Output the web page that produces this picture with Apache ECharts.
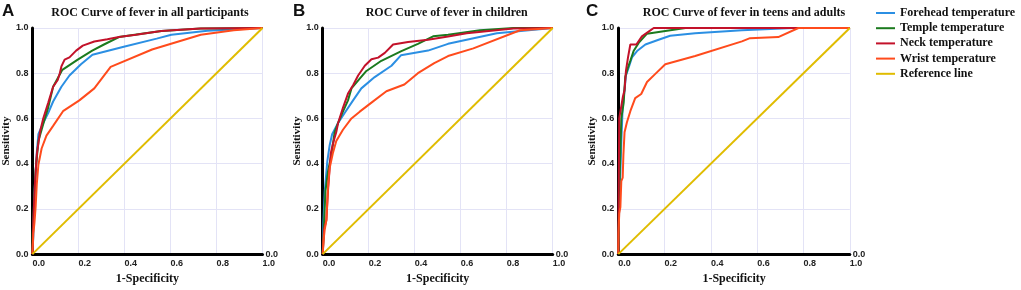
<!DOCTYPE html>
<html><head><meta charset="utf-8">
<script src="https://cdn.jsdelivr.net/npm/echarts@6/dist/echarts.min.js"></script>
<style>html,body{margin:0;padding:0;background:#fff}#c{width:1021px;height:290px}</style>
</head><body><div id="c"></div>
<script>
const panelLetters = ['A', 'B', 'C'];
const panelTitles = ['ROC Curve of fever in all participants', 'ROC Curve of fever in children', 'ROC Curve of fever in teens and adults'];
const seriesNames = ['Forehead temperature', 'Temple temperature', 'Neck temperature', 'Wrist temperature', 'Reference line'];
const xTickLabels = ['0.0', '0.2', '0.4', '0.6', '0.8', '1.0'];
const yTickLabels = ['0.0', '0.2', '0.4', '0.6', '0.8', '1.0'];

const A_forehead = [[0,0],[0.004,0.08],[0.009,0.27],[0.019,0.45],[0.026,0.53],[0.047,0.58],[0.069,0.625],[0.09,0.675],[0.126,0.74],[0.161,0.79],[0.211,0.84],[0.261,0.882],[0.397,0.917],[0.54,0.953],[0.604,0.97],[0.761,0.988],[1,1]];
const A_temple = [[0,0],[0.001,0.09],[0.006,0.2],[0.014,0.37],[0.026,0.5],[0.04,0.55],[0.054,0.6],[0.069,0.65],[0.09,0.74],[0.13,0.815],[0.197,0.86],[0.26,0.9],[0.311,0.927],[0.376,0.96],[0.483,0.976],[0.561,0.987],[0.732,0.998],[1,1]];
const A_neck = [[0,0],[0.004,0.15],[0.011,0.31],[0.019,0.44],[0.033,0.54],[0.047,0.6],[0.069,0.67],[0.09,0.74],[0.11,0.77],[0.119,0.8],[0.126,0.83],[0.14,0.86],[0.161,0.87],[0.19,0.9],[0.219,0.922],[0.269,0.94],[0.326,0.95],[0.376,0.96],[0.45,0.97],[0.56,0.987],[0.73,0.998],[1,1]];
const A_wrist = [[0,0],[0.004,0.09],[0.009,0.14],[0.014,0.21],[0.019,0.31],[0.026,0.395],[0.04,0.467],[0.061,0.524],[0.09,0.567],[0.133,0.632],[0.204,0.68],[0.269,0.733],[0.34,0.828],[0.52,0.905],[0.732,0.97],[0.875,0.99],[1,1]];

const B_forehead = [[0,0],[0.003,0.14],[0.009,0.28],[0.02,0.41],[0.03,0.48],[0.041,0.53],[0.067,0.58],[0.096,0.625],[0.132,0.68],[0.168,0.733],[0.226,0.783],[0.299,0.833],[0.34,0.879],[0.458,0.9],[0.545,0.93],[0.757,0.977],[1,1]];
const B_temple = [[0,0],[0.004,0.09],[0.012,0.28],[0.023,0.366],[0.038,0.44],[0.052,0.54],[0.067,0.58],[0.088,0.63],[0.11,0.68],[0.125,0.733],[0.161,0.776],[0.19,0.81],[0.255,0.855],[0.342,0.898],[0.414,0.93],[0.48,0.963],[0.545,0.97],[0.684,0.99],[0.83,1],[1,1]];
const B_neck = [[0,0],[0.006,0.11],[0.016,0.15],[0.023,0.28],[0.035,0.445],[0.045,0.49],[0.059,0.54],[0.067,0.58],[0.088,0.647],[0.11,0.71],[0.132,0.747],[0.154,0.79],[0.183,0.833],[0.212,0.862],[0.241,0.869],[0.27,0.89],[0.306,0.927],[0.371,0.938],[0.458,0.948],[0.545,0.962],[0.626,0.977],[0.829,0.998],[1,1]];
const B_wrist = [[0,0],[0.004,0.065],[0.009,0.11],[0.016,0.15],[0.023,0.295],[0.03,0.38],[0.045,0.45],[0.059,0.5],[0.088,0.55],[0.125,0.6],[0.161,0.63],[0.212,0.67],[0.277,0.72],[0.355,0.75],[0.414,0.8],[0.485,0.845],[0.545,0.876],[0.655,0.91],[0.858,0.99],[1,1]];

const C_forehead = [[0,0],[0.004,0.21],[0.009,0.366],[0.013,0.496],[0.019,0.654],[0.027,0.726],[0.033,0.79],[0.045,0.826],[0.059,0.87],[0.081,0.898],[0.117,0.927],[0.174,0.948],[0.224,0.966],[0.332,0.977],[0.534,0.99],[0.756,1],[1,1]];
const C_temple = [[0,0],[0.003,0.21],[0.007,0.38],[0.013,0.6],[0.023,0.668],[0.03,0.783],[0.042,0.826],[0.052,0.855],[0.066,0.898],[0.088,0.934],[0.124,0.975],[0.203,0.987],[0.29,1],[1,1]];
const C_neck = [[0,0],[0.001,0.165],[0.004,0.6],[0.01,0.6],[0.013,0.654],[0.02,0.697],[0.027,0.726],[0.033,0.81],[0.042,0.87],[0.052,0.927],[0.078,0.927],[0.102,0.963],[0.131,0.984],[0.153,1],[1,1]];
const C_wrist = [[0,0],[0.001,0.093],[0.004,0.18],[0.009,0.208],[0.013,0.323],[0.019,0.338],[0.022,0.438],[0.027,0.539],[0.037,0.582],[0.052,0.632],[0.073,0.69],[0.099,0.708],[0.124,0.761],[0.16,0.797],[0.203,0.84],[0.332,0.876],[0.534,0.941],[0.569,0.955],[0.691,0.96],[0.778,1],[1,1]];

const referenceLine = [[0,0],[1,1]];

const panelData = [
  [A_forehead, A_temple, A_neck, A_wrist, referenceLine],
  [B_forehead, B_temple, B_neck, B_wrist, referenceLine],
  [C_forehead, C_temple, C_neck, C_wrist, referenceLine]
];

const colors = ['#2b8fe3', '#1b7a1e', '#c3122a', '#ff4b1c', '#e0bc00'];
const gridBoxes = [
  {left: 29, top: 28, width: 233.5, height: 232},
  {left: 322.7, top: 28, width: 230, height: 232},
  {left: 618.3, top: 28, width: 231.5, height: 232}
];
const titleCenters = [150, 446.7, 744];
const letterLefts = [2, 293, 586];

const serif = 'Liberation Serif';
const sans = 'Liberation Sans';
const gridColor = '#e3e3f6';

const grids = gridBoxes.map(g => Object.assign({containLabel: false}, g));
const xAxes = gridBoxes.map((g, i) => ({
  gridIndex: i, type: 'value', min: 0, max: 1, interval: 0.2,
  axisLine: {show: true, onZero: false, lineStyle: {color: '#000', width: 3}},
  axisTick: {show: false},
  splitLine: {show: true, lineStyle: {color: gridColor, width: 1}},
  axisLabel: {formatter: (v) => xTickLabels[Math.round(v * 5)], fontFamily: sans, fontWeight: 'bold', fontSize: 9, color: '#222', align: 'left', margin: 5},
  name: '1-Specificity', nameLocation: 'middle', nameGap: 16,
  nameTextStyle: {fontFamily: serif, fontWeight: 'bold', fontSize: 12, color: '#111'}
}));
const yAxes = gridBoxes.map((g, i) => ({
  gridIndex: i, type: 'value', min: 0, max: 1, interval: 0.2,
  axisLine: {show: true, onZero: false, lineStyle: {color: '#000', width: 3}},
  axisTick: {show: false},
  splitLine: {show: true, lineStyle: {color: gridColor, width: 1}},
  axisLabel: {formatter: (v) => yTickLabels[Math.round(v * 5)], fontFamily: sans, fontWeight: 'bold', fontSize: 9, color: '#222', margin: 4, padding: [0, 0, 4, 0]},
  name: 'Sensitivity', nameLocation: 'middle', nameGap: 17,
  nameTextStyle: {fontFamily: serif, fontWeight: 'bold', fontSize: 11, color: '#111'}
}));
gridBoxes.forEach((g, i) => {
  yAxes.push({
    gridIndex: i, type: 'value', position: 'right', min: 0, max: 1, interval: 1,
    axisLine: {show: false}, axisTick: {show: false}, splitLine: {show: false},
    axisLabel: {formatter: (v) => v === 0 ? yTickLabels[0] : '', fontFamily: sans, fontWeight: 'bold', fontSize: 9, color: '#222', margin: 3, padding: [0, 0, 8, 0]}
  });
});

const drawOrder = [4, 3, 0, 2, 1];
const series = [];
panelData.forEach((arr, p) => {
  drawOrder.forEach(k => {
    series.push({
      type: 'line', name: seriesNames[k], xAxisIndex: p, yAxisIndex: p,
      data: arr[k], symbol: 'none', showSymbol: false, smooth: false,
      lineStyle: {color: colors[k], width: 2},
      itemStyle: {color: colors[k]}, animation: false, silent: true, z: 2 + k
    });
  });
});

const titles = [];
panelLetters.forEach((t, i) => titles.push({text: t, left: letterLefts[i], top: 3, padding: 0,
  textStyle: {fontFamily: sans, fontWeight: 'bold', fontSize: 17, color: '#111'}}));
panelTitles.forEach((t, i) => titles.push({text: t, left: titleCenters[i], textAlign: 'center', top: 7, padding: 0,
  textStyle: {fontFamily: serif, fontWeight: 'bold', fontSize: 12, color: '#111'}}));

const chart = echarts.init(document.getElementById('c'), null, {renderer: 'canvas'});
chart.setOption({
  animation: false,
  backgroundColor: '#fff',
  title: titles,
  grid: grids,
  xAxis: xAxes,
  yAxis: yAxes,
  legend: {
    data: seriesNames, orient: 'vertical', left: 876, top: 7, padding: 0,
    itemWidth: 19, itemHeight: 2, itemGap: 3.2, icon: 'rect', selectedMode: false,
    textStyle: {fontFamily: serif, fontWeight: 'bold', fontSize: 12, color: '#111'}
  },
  series: series
});
</script></body></html>
